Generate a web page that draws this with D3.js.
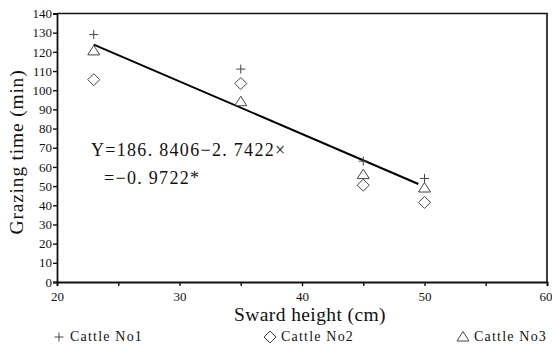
<!DOCTYPE html>
<html><head><meta charset="utf-8">
<script src="https://cdn.jsdelivr.net/npm/d3@7"></script>
<style>body{margin:0;background:#fff}svg{display:block}text{font-family:"Liberation Serif","DejaVu Serif",serif;fill:#111}</style>
</head><body><svg id="c" width="552" height="347"></svg>
<script>
const swardHeight = [23, 35, 45, 50];
const cattle1 = [129, 111, 63, 54];
const cattle2 = [105.5, 103.5, 50.5, 41.5];
const cattle3 = [120.5, 94, 56, 49];
const seriesNames = ["Cattle No1", "Cattle No2", "Cattle No3"];
const xTicks = [20, 30, 40, 50, 60];
const yTicks = [0,10,20,30,40,50,60,70,80,90,100,110,120,130,140];
const regIntercept = 186.8406, regSlope = -2.7422;
const regRange = [23, 49.5];
const eqLine1 = "Y=186. 8406\u22122. 7422\u00D7";
const eqLine2 = "=\u22120. 9722*";

const svg = d3.select("#c");
const x = d3.scaleLinear().domain([20, 60]).range([57, 547]);
const y = d3.scaleLinear().domain([0, 140]).range([282, 13.5]);

// frame
svg.append("path").attr("d", `M${x(20)},${y(140)}H${x(60)}V${y(0)}`).attr("fill","none").attr("stroke","#111").attr("stroke-width",1.6);

const gx = svg.append("g").attr("transform", `translate(0,${y(0)})`)
  .call(d3.axisBottom(x).tickValues(d3.range(20, 61, 5)).tickSize(4).tickFormat(d => xTicks.includes(d) ? d : ""));
const gy = svg.append("g").attr("transform", `translate(${x(20)},0)`)
  .call(d3.axisLeft(y).tickValues(yTicks).tickSize(4).tickPadding(1));
[gx, gy].forEach(g => {
  g.select(".domain").attr("stroke","#111").attr("stroke-width",1.8);
  g.selectAll(".tick line").attr("stroke","#111").attr("stroke-width",1.4);
  g.selectAll("text").style("font-family",'"Liberation Serif",serif').style("font-size","13px").attr("fill","#222");
});
gx.selectAll("text").attr("dy","0.95em");
gx.selectAll(".tick text").filter(d => d === 60).attr("text-anchor","end").attr("dx","5");

// axis titles
svg.append("text").attr("x", 310).attr("y", 321).attr("text-anchor","middle").style("font-size","19.5px").style("letter-spacing","0.4px").text("Sward height (cm)");
svg.append("text").attr("transform","translate(23,152) rotate(-90)").attr("text-anchor","middle").style("font-size","19.5px").style("letter-spacing","0.8px").text("Grazing time (min)");

// regression line
svg.append("line")
  .attr("x1", x(regRange[0])).attr("y1", y(regIntercept + regSlope*regRange[0]))
  .attr("x2", x(regRange[1])).attr("y2", y(regIntercept + regSlope*regRange[1]))
  .attr("stroke","#000").attr("stroke-width",2);

// markers
const mk = {
  plus: "M-4.5,0H4.5M0,-4.5V4.5",
  diamond: "M0,-6L6,0L0,6L-6,0Z",
  triangle: "M0,-5.5L6,4L-6,4Z"
};
const series = [
  {name: seriesNames[0], vals: cattle1, shape: mk.plus},
  {name: seriesNames[1], vals: cattle2, shape: mk.diamond},
  {name: seriesNames[2], vals: cattle3, shape: mk.triangle}
];
series.forEach(s => {
  svg.append("g").selectAll("path").data(s.vals).join("path")
    .attr("transform", (d,i) => `translate(${x(swardHeight[i])},${y(d)})`)
    .attr("d", s.shape).attr("fill","none").attr("stroke","#444").attr("stroke-width",1);
});

// equation
svg.append("text").attr("x", 91).attr("y", 156).style("font-size","18px").style("letter-spacing","1.3px").text(eqLine1);
svg.append("text").attr("x", 104).attr("y", 184).style("font-size","18px").style("letter-spacing","1.3px").text(eqLine2);

// legend
const legX = [59, 270, 463];
series.forEach((s, i) => {
  svg.append("path").attr("transform", `translate(${legX[i]},${337})`)
    .attr("d", s.shape).attr("fill","none").attr("stroke","#444").attr("stroke-width",1);
  svg.append("text").attr("x", legX[i] + 11).attr("y", 341).style("font-size","14px").style("letter-spacing","1.2px").text(s.name);
});
</script></body></html>
